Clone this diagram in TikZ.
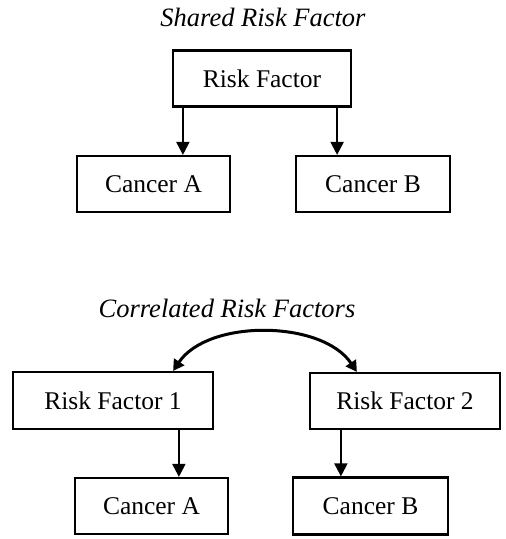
\documentclass[tikz,border=0pt]{standalone}
\usepackage{fontspec}
\setmainfont{Liberation Serif}
\usetikzlibrary{arrows.meta}
\begin{document}
\begin{tikzpicture}[x=1pt, y=-1pt,
    box/.style={draw, line width=2.2pt, minimum height=56pt, inner sep=0pt, font=\fontsize{25.5}{30}\selectfont},
    title/.style={font=\fontsize{26.5}{30}\selectfont\itshape, inner sep=0pt},
    arr/.style={line width=2pt, -{Triangle[width=13pt,length=13pt]}},
    link/.style={line width=3pt, {Triangle[width=12pt,length=11pt]}-{Triangle[width=12pt,length=11pt]}}]
    \useasboundingbox (0,0) rectangle (506,539);
    % shared risk factor
    \node[title] (t1) at (263,17) {Shared Risk Factor};
    \node[box, minimum width=178pt] (rf) at (262,78.5) {Risk Factor};
    \node[box, minimum width=153pt] (ca) at (153.5,184) {Cancer A};
    \node[box, minimum width=154pt] (cb) at (373,184) {Cancer B};
    \draw[arr] ([xshift=11pt]rf.south west) -- ([xshift=11pt]rf.south west |- ca.north);
    \draw[arr] ([xshift=-15pt]rf.south east) -- ([xshift=-15pt]rf.south east |- cb.north);
    % correlated risk factors
    \node[title] (t2) at (227,308) {Correlated Risk Factors};
    \node[box, minimum width=200pt, minimum height=57pt] (rf1) at (113,400.5) {Risk Factor 1};
    \node[box, minimum width=190pt] (rf2) at (405,401) {Risk Factor 2};
    \node[box, minimum width=153pt] (ca2) at (151.5,506) {Cancer A};
    \node[box, minimum width=155pt, minimum height=57pt] (cb2) at (370.5,506) {Cancer B};
    \draw[arr] ([xshift=167pt]rf1.south west) -- ([xshift=167pt]rf1.south west |- ca2.north);
    \draw[arr] ([xshift=32pt]rf2.south west) -- ([xshift=32pt]rf2.south west |- cb2.north);
    \draw[link] ([xshift=-41pt]rf1.north east) .. controls +(35,-52) and +(-35,-52) .. ([xshift=48pt]rf2.north west);
\end{tikzpicture}
\end{document}
